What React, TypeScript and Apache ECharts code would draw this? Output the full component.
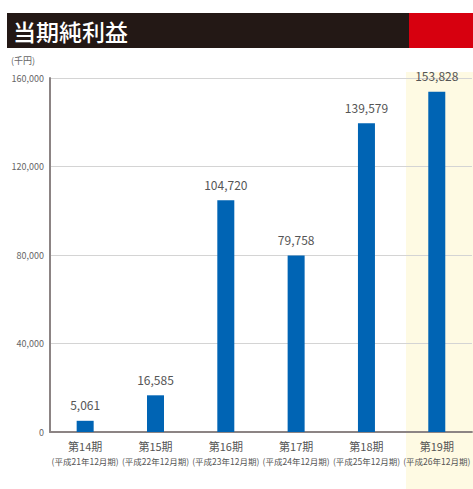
import React, { useEffect, useRef } from "react";
import * as echarts from "echarts";

const periods = ["第14期", "第15期", "第16期", "第17期", "第18期", "第19期"];
const fiscalYears = ["平成21年12月期", "平成22年12月期", "平成23年12月期", "平成24年12月期", "平成25年12月期", "平成26年12月期"];
const netIncome = [5061, 16585, 104720, 79758, 139579, 153828];
const yTicks = [0, 40000, 80000, 120000, 160000];

const FONT = "'Noto Sans CJK JP', 'Noto Sans', sans-serif";

export default function App() {
  const ref = useRef<HTMLDivElement>(null);
  useEffect(() => {
    if (!ref.current) return;
    const chart = echarts.init(ref.current, null, { renderer: "svg" });
    chart.setOption({
      animation: false,
      backgroundColor: "#ffffff",
      textStyle: { fontFamily: FONT },
      graphic: [
        { type: "rect", z: -10, shape: { x: 406, y: 72, width: 67, height: 417 }, style: { fill: "#fefae3" } },
        { type: "rect", shape: { x: 7, y: 13, width: 402, height: 35 }, style: { fill: "#231815" } },
        { type: "rect", shape: { x: 409, y: 13, width: 64, height: 35 }, style: { fill: "#d7000f" } },
        {
          type: "text",
          x: 13,
          y: 31,
          style: { text: "当期純利益", fill: "#ffffff", font: `500 23px ${FONT}`, textVerticalAlign: "middle" },
        },
        {
          type: "text",
          x: 11,
          y: 60,
          style: { text: "(千円)", fill: "#666666", font: `9px ${FONT}`, textVerticalAlign: "middle" },
        },
      ],
      grid: { left: 50, top: 78, bottom: 57, width: 426, containLabel: false },
      xAxis: {
        type: "category",
        data: periods,
        axisLine: { lineStyle: { color: "#8c8484", width: 2 } },
        axisTick: { show: false },
        axisLabel: {
          interval: 0,
          margin: 6,
          formatter: (v: string, i: number) => `{a|${v}}\n{b|(${fiscalYears[i]})}`,
          rich: {
            a: { fontSize: 11, color: "#555555", fontFamily: FONT, lineHeight: 16 },
            b: { fontSize: 8.5, color: "#555555", fontFamily: FONT, lineHeight: 14 },
          },
        },
      },
      yAxis: {
        type: "value",
        min: yTicks[0],
        max: yTicks[yTicks.length - 1],
        interval: 40000,
        axisLine: { show: true, lineStyle: { color: "#8c8484", width: 2 } },
        axisTick: { show: false },
        splitLine: { lineStyle: { color: "#d4d4d4", width: 1 } },
        axisLabel: {
          fontSize: 9,
          color: "#666666",
          margin: 6,
          formatter: (v: number) => v.toLocaleString("en-US"),
        },
      },
      series: [
        {
          type: "bar",
          data: netIncome,
          barWidth: 17,
          itemStyle: { color: "#0064b4" },
          label: {
            show: true,
            position: "top",
            distance: 10,
            fontSize: 12,
            color: "#555555",
            fontFamily: FONT,
            formatter: (p: any) => Number(p.value).toLocaleString("en-US"),
          },
        },
      ],
    });
    return () => chart.dispose();
  }, []);
  return <div ref={ref} style={{ width: 473, height: 489, position: "absolute", left: 0, top: 0 }} />;
}
